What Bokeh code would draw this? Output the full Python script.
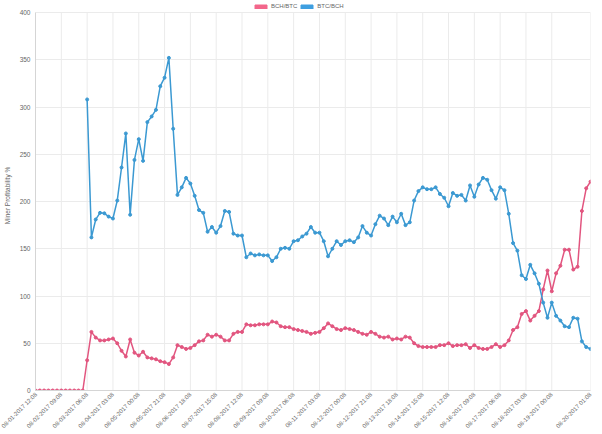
import math
from bokeh.plotting import figure
from bokeh.models import Legend, LegendItem, Range1d, FixedTicker, ColumnDataSource
from bokeh.embed import file_html
from bokeh.resources import INLINE

# ---- data -------------------------------------------------------------
tick_index = [0, 6, 12, 18, 24, 30, 36, 42, 48, 54, 60, 66, 72, 78, 84, 90,
              96, 102, 108, 114, 120, 129]
tick_labels = ["08-01-2017 12:08", "08-02-2017 09:08", "08-03-2017 06:08",
               "08-04-2017 03:08", "08-05-2017 00:08", "08-05-2017 21:08",
               "08-06-2017 18:08", "08-07-2017 15:08", "08-08-2017 12:08",
               "08-09-2017 09:08", "08-10-2017 06:08", "08-11-2017 03:08",
               "08-12-2017 00:08", "08-12-2017 21:08", "08-13-2017 18:08",
               "08-14-2017 15:08", "08-15-2017 12:08", "08-16-2017 09:08",
               "08-17-2017 06:08", "08-18-2017 03:08", "08-19-2017 00:08",
               "08-20-2017 01:08"]

bch_btc = [0, 0, 0, 0, 0, 0, 0, 0, 0, 0, 0, 0,
           32, 62, 56, 53, 53, 54, 55, 50, 42, 36, 54, 40, 37, 41, 35, 34,
           33, 31, 30, 28, 35, 48, 46, 44, 45, 48, 52, 53, 59, 57, 59, 57,
           53, 53, 60, 62, 62, 70, 69, 69, 70, 70, 70, 73, 72, 68, 67, 67,
           65, 64, 63, 62, 60, 61, 62, 66, 71, 68, 65, 64, 66, 65, 64, 62,
           60, 59, 62, 60, 57, 56, 57,
           54, 55, 54, 57, 56, 50, 47, 46, 46, 46, 46, 48, 48, 50, 47, 48,
           48, 49, 45, 48, 45, 44, 44, 46, 49, 46, 48, 53, 64, 67, 81, 84,
           74, 79, 84, 107, 127, 105, 124, 132, 149, 149, 128, 131, 190, 214,
           221]

btc_bch = [None] * 12 + [
           308, 162, 181, 188, 187.5, 184, 182, 201, 236, 272, 186, 244,
           266, 243, 284, 290, 297, 322, 331, 352, 277, 207, 215, 225, 219,
           206, 191, 188, 168, 173, 167, 174, 190, 189, 166, 164, 164, 141,
           145, 143, 144, 143, 143, 137, 141, 150, 151, 150, 158, 159, 163,
           166, 173, 167, 167, 158, 142, 150, 158, 154, 158, 159, 157, 162,
           174, 167, 164, 176, 185, 182, 175, 184, 178, 187, 175, 178, 201,
           211, 215, 213, 213, 215, 208, 204, 195, 209, 206, 207, 201, 217,
           205, 218, 225, 223, 212, 203, 215, 212, 187, 156, 148, 122, 118,
           133, 124, 113, 93, 77, 93, 79, 74, 68, 67, 77, 76, 52, 46, 44]

series_names = ["BCH/BTC", "BTC/BCH"]
y_ticks = [0, 50, 100, 150, 200, 250, 300, 350, 400]

# ---- styling ----------------------------------------------------------
RED_LINE = "#e2557f"
RED_BOX = "#f3668b"
BLUE_LINE = "#3b99d2"
BLUE_BOX = "#3e9fe0"
TXT = "#666666"
GRID = "#ebebeb"
FONT = "Liberation Sans"

idx = list(range(len(bch_btc)))
src = ColumnDataSource(dict(
    x=idx,
    red=bch_btc,
    blue=[float("nan") if v is None else v for v in btc_bch],
))

Y_MAX = y_ticks[-1]
# the frame reaches the top of the canvas so that the legend can sit above 400
p = figure(width=602, height=434, output_backend="svg", toolbar_location=None,
           x_range=Range1d(0, len(idx) - 1), y_range=Range1d(0, Y_MAX * 390 / 378),
           min_border_left=30, min_border_right=12, min_border_top=0,
           min_border_bottom=44)
p.outline_line_color = None
p.background_fill_color = "white"

# vertical grid lines limited to the 0..400 band
p.xgrid.visible = False
p.segment(x0=tick_index, y0=[0] * len(tick_index), x1=tick_index,
          y1=[Y_MAX] * len(tick_index), line_color=GRID, line_width=1)

p.line("x", "red", source=src, line_color=RED_LINE, line_width=1.5)
p.scatter("x", "red", source=src, size=3, fill_color=RED_LINE, line_color=RED_LINE)
p.line("x", "blue", source=src, line_color=BLUE_LINE, line_width=1.5)
p.scatter("x", "blue", source=src, size=3, fill_color=BLUE_LINE, line_color=BLUE_LINE)

# legend boxes (renderers drawn off-range, used only for their legend glyphs)
box_src = ColumnDataSource(dict(l=[-10], r=[-9], t=[-10], b=[-9]))
rb = p.quad(left="l", right="r", top="t", bottom="b", source=box_src,
            fill_color=RED_BOX, line_color=RED_BOX)
bb = p.quad(left="l", right="r", top="t", bottom="b", source=box_src,
            fill_color=BLUE_BOX, line_color=BLUE_BOX)
legend = Legend(items=[LegendItem(label=series_names[0], renderers=[rb]),
                       LegendItem(label=series_names[1], renderers=[bb])],
                orientation="horizontal", location=(218, 381),
                glyph_width=15, glyph_height=5, label_height=5, label_width=18,
                label_text_font_size="6px", label_text_color=TXT,
                label_text_font=FONT, label_standoff=3, spacing=2,
                padding=0, margin=0, border_line_color=None,
                background_fill_alpha=0)
p.add_layout(legend, "center")

# axes
p.xaxis.ticker = FixedTicker(ticks=tick_index)
p.xaxis.major_label_overrides = {i: t for i, t in zip(tick_index, tick_labels)}
p.xaxis.major_label_orientation = math.pi / 4
p.xaxis.major_label_text_font_size = "6px"
p.xaxis.major_label_standoff = 3
p.yaxis.ticker = FixedTicker(ticks=y_ticks)
p.yaxis.bounds = (0, Y_MAX)
p.yaxis.major_label_text_font_size = "6.5px"
p.yaxis.major_label_standoff = 5
p.yaxis.axis_label = "Miner Profitability %"
p.yaxis.axis_label_text_font_size = "6.5px"
p.yaxis.axis_label_text_font_style = "normal"
p.yaxis.axis_label_standoff = 6
for ax in (p.xaxis, p.yaxis):
    ax.major_label_text_color = TXT
    ax.major_label_text_font = FONT
    ax.axis_label_text_color = TXT
    ax.axis_label_text_font = FONT
    ax.axis_line_color = "#d5d5d5"
    ax.major_tick_in = 0
    ax.major_tick_out = 0
    ax.minor_tick_in = 0
    ax.minor_tick_out = 0
p.ygrid.grid_line_color = GRID

open("out.html", "w").write(file_html(p, INLINE))
